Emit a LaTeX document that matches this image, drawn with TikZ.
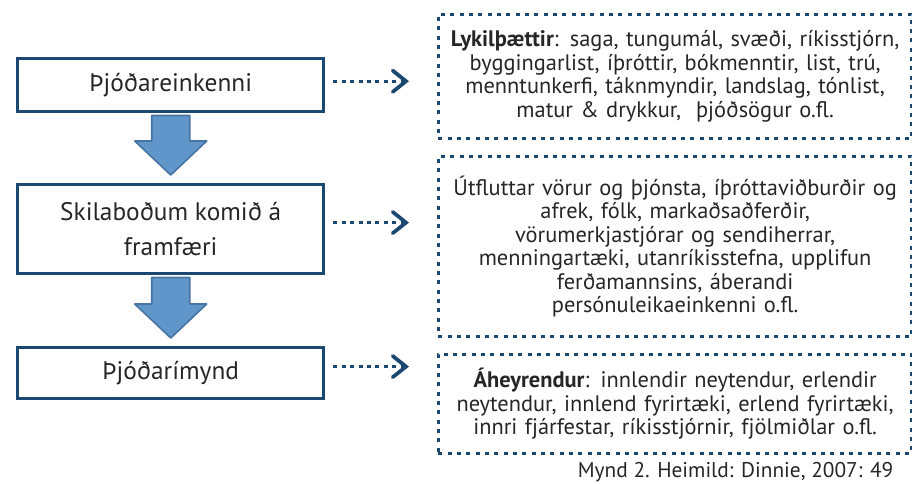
\documentclass[tikz,border=0pt]{standalone}
\usepackage{fontspec}
\setmainfont{PT Sans}
\usetikzlibrary{arrows.meta,calc}

\definecolor{navy}{RGB}{27,72,112}
\definecolor{arrowfill}{RGB}{96,150,201}
\definecolor{arrowline}{RGB}{72,116,164}
\definecolor{textgray}{RGB}{38,38,38}

\tikzset{
	stage/.style={draw=navy, line width=2.6pt, minimum width=229.5pt, inner sep=0pt,
		anchor=north west, align=center, text=textgray,
		font=\fontsize{19}{26}\selectfont},
	infobox/.style={draw=navy, line width=2.2pt, dash pattern=on 3pt off 4pt,
		minimum width=355pt, text width=352pt, inner sep=0pt, anchor=north west,
		align=center, text=textgray, font=\fontsize{16.8}{17.6}\selectfont},
	pointer/.style={draw=navy, line width=2.4pt, dash pattern=on 3pt off 3.3pt,
		-{Straight Barb[length=10pt,width=16pt,line width=2.8pt,line cap=round]}},
	blockarrow/.style={fill=arrowfill, draw=arrowline, line width=1.2pt, line join=round}
}

\begin{document}
\begin{tikzpicture}[x=0.75pt,y=-0.75pt]
	\useasboundingbox (0,0) rectangle (912,483);
	% left column
	\node[stage, minimum height=39.75pt] at (16,57) (top) {Þjóðareinkenni};
	\node[stage, minimum height=66.75pt] at (16,183) (mid) {Skilaboðum komið á\\framfæri};
	\node[stage, minimum height=38.25pt] at (16,346) (low) {Þjóðarímynd};
	% right column
	\node[infobox, minimum height=93pt] at (437,13) (factors)
		{\textbf{Lykilþættir}: saga, tungumál, svæði, ríkisstjórn,\\
		byggingarlist, íþróttir, bókmenntir, list, trú,\\
		menntunkerfi, táknmyndir, landslag, tónlist,\\
		matur \& drykkur,\ \ þjóðsögur o.fl.};
	\node[infobox, minimum height=135pt] at (437,155) (channels)
		{Útfluttar vörur og þjónsta, íþróttaviðburðir og\\
		afrek, fólk, markaðsaðferðir,\\
		vörumerkjastjórar og sendiherrar,\\
		menningartæki, utanríkisstefna, upplifun\\
		ferðamannsins, áberandi\\
		persónuleikaeinkenni o.fl.};
	\node[infobox, minimum height=74pt] at (437,353) (audience)
		{\textbf{Áheyrendur}: innlendir neytendur, erlendir\\
		neytendur, innlend fyrirtæki, erlend fyrirtæki,\\
		innri fjárfestar, ríkisstjórnir, fjölmiðlar o.fl.};
	\node[anchor=base east, text=textgray, font=\fontsize{16}{18}\selectfont]
		at (898,477) (source) {Mynd 2. Heimild: Dinnie, 2007: 49};
	% block arrows
	\foreach \a/\b in {top/mid, mid/low}
		\draw[blockarrow] ($(\a.south)+(-19,2)$) -- ($(\b.north)+(-19,-42)$)
			-- ($(\b.north)+(-36,-42)$) -- ($(\b.north)+(0,-8)$)
			-- ($(\b.north)+(36,-42)$) -- ($(\b.north)+(19,-42)$)
			-- ($(\a.south)+(19,2)$) -- cycle;
	% dotted pointers
	\draw[pointer, shorten <=6pt, shorten >=21pt] ([yshift=3pt]top.east) -- ([yshift=3pt]top.east -| factors.west);
	\draw[pointer, shorten <=6pt, shorten >=21pt] ([yshift=5pt]mid.east) -- ([yshift=5pt]mid.east -| channels.west);
	\draw[pointer, shorten <=6pt, shorten >=21pt] ([yshift=5pt]low.east) -- ([yshift=5pt]low.east -| audience.west);
\end{tikzpicture}
\end{document}
